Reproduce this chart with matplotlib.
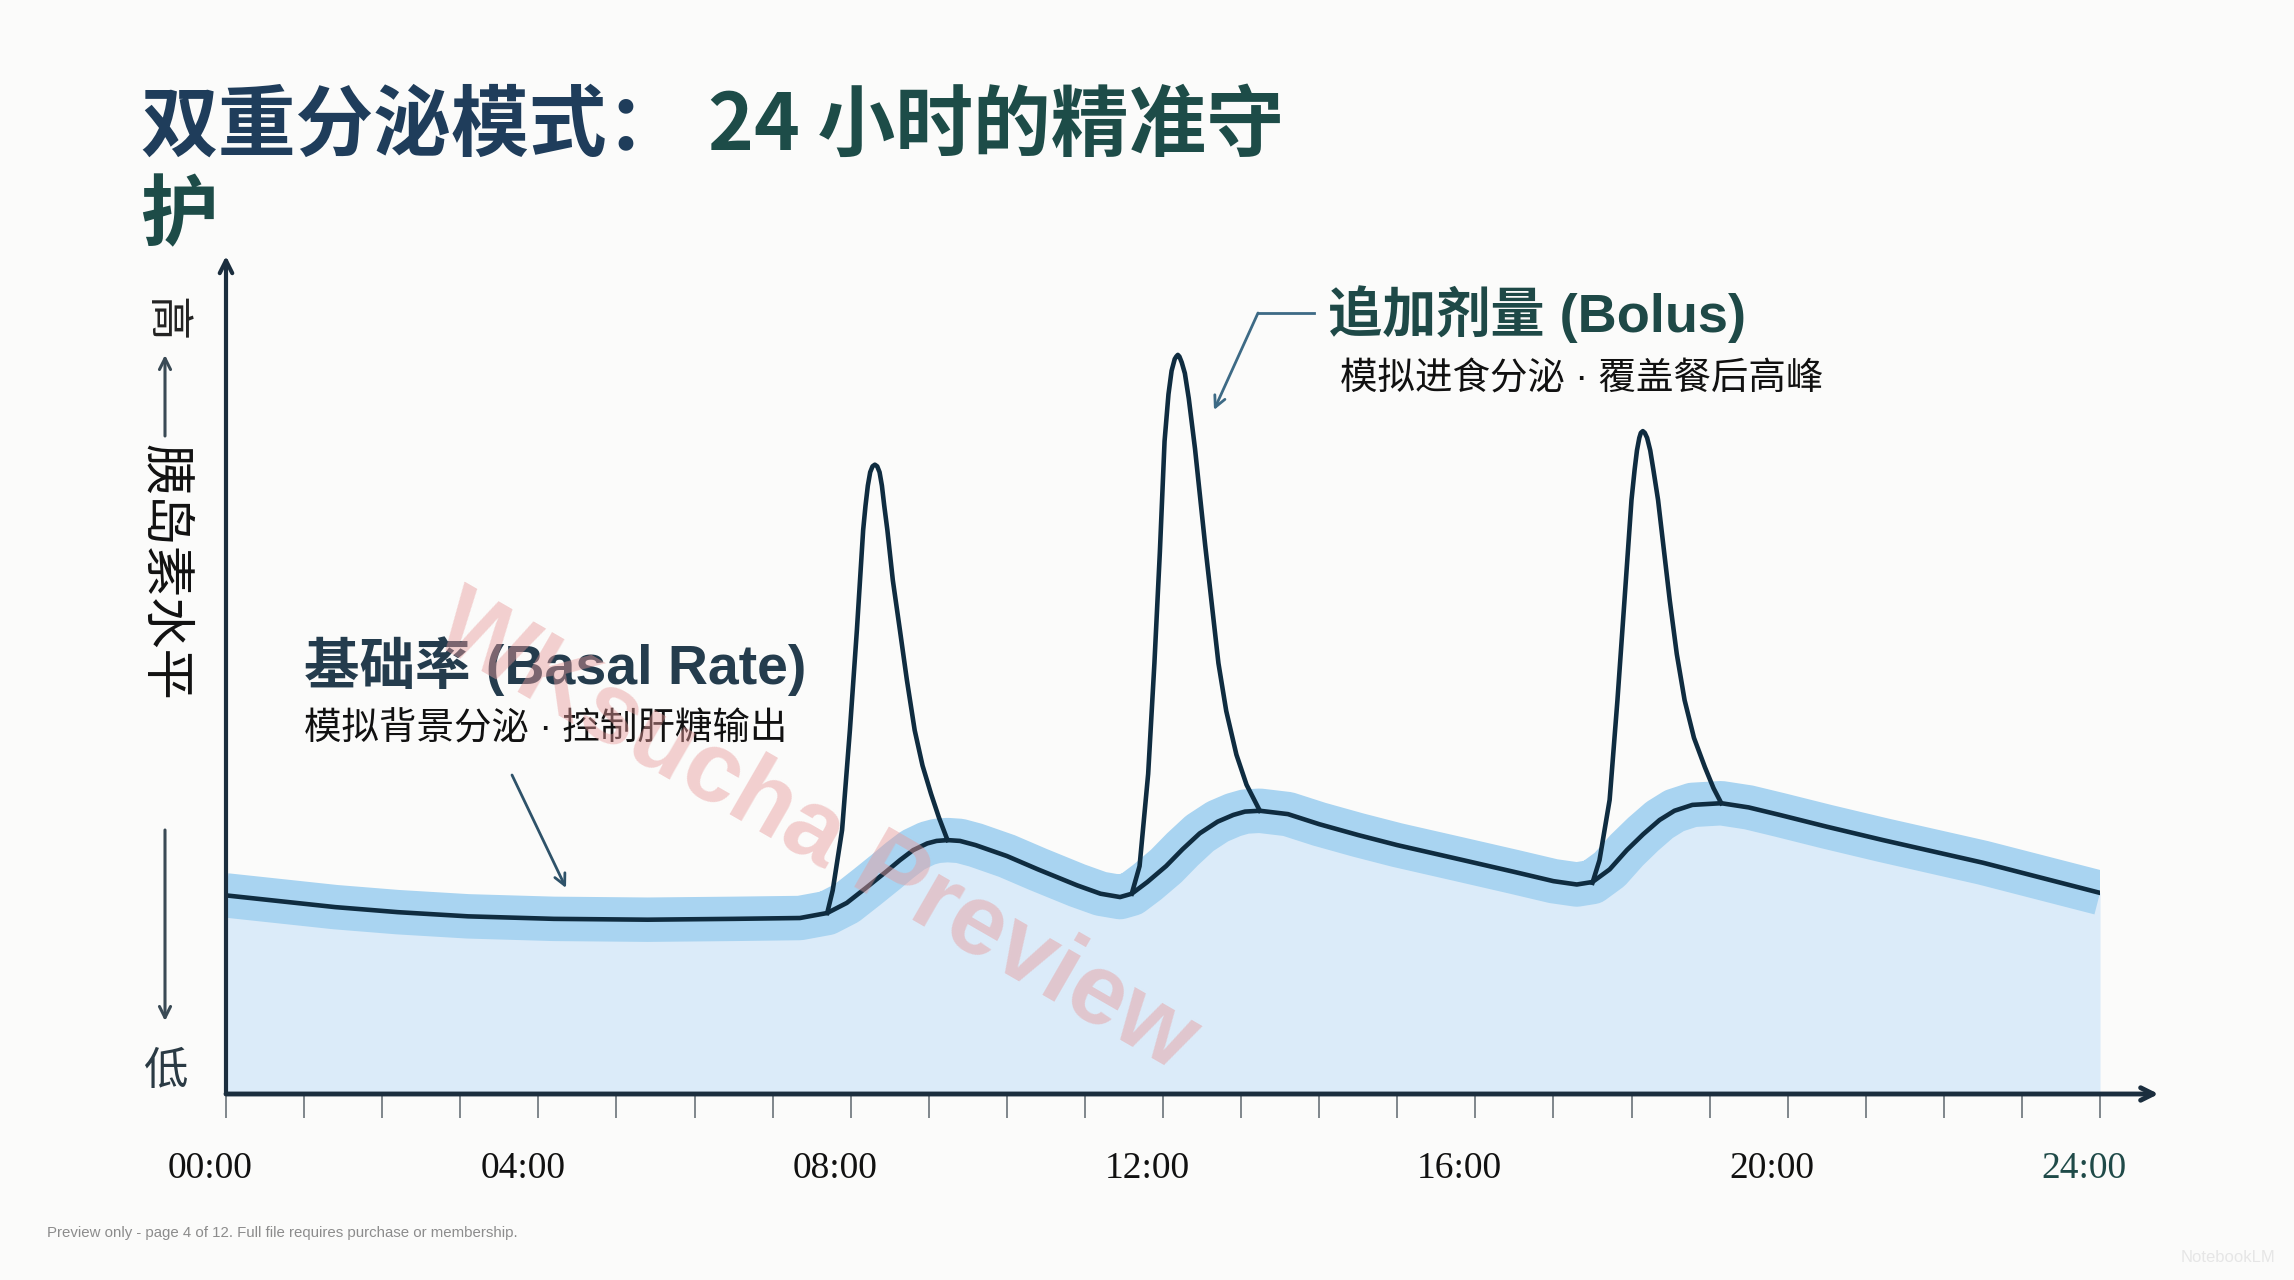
import matplotlib
matplotlib.use('Agg')
import matplotlib.pyplot as plt
from matplotlib.lines import Line2D

# basal curve (hours, relative insulin level 0-100)
basal_h = [0, 0.7, 1.4, 2.2, 3.1, 4.2, 5.4, 6.5, 7.35, 7.7, 7.95, 8.21, 8.45, 8.63, 8.8,
           8.98, 9.1, 9.24, 9.4, 9.6, 10.0, 10.4, 10.9, 11.2, 11.45, 11.6, 11.8, 12.04, 12.25,
           12.47, 12.7, 12.9, 13.05, 13.24, 13.6, 14.0, 14.5, 15.0, 15.8, 16.5, 17.0, 17.3,
           17.5, 17.72, 17.94, 18.15, 18.36, 18.55, 18.78, 19.15, 19.5, 19.9, 20.5, 21.22,
           22.5, 24.0]
basal_v = [23.7, 23.0, 22.3, 21.7, 21.2, 20.9, 20.8, 20.9, 21.0, 21.6, 22.8, 24.7, 26.5, 27.9, 29.1,
           29.9, 30.2, 30.3, 30.2, 29.7, 28.4, 26.8, 24.9, 23.9, 23.5, 23.9, 25.3, 27.2, 29.2,
           31.1, 32.5, 33.3, 33.7, 33.8, 33.4, 32.2, 30.9, 29.7, 28.0, 26.5, 25.4, 25.0,
           25.3, 26.8, 29.1, 31.0, 32.7, 33.8, 34.5, 34.7, 34.2, 33.3, 31.9, 30.3,
           27.6, 24.0]

# bolus spikes
spike1_h = [7.70, 7.77, 7.89, 7.99, 8.08, 8.16, 8.19, 8.22, 8.25, 8.28, 8.31, 8.34, 8.37,
            8.40, 8.43, 8.47, 8.54, 8.63, 8.72, 8.82, 8.92, 9.03, 9.13, 9.24]
spike1_v = [21.6, 24.3, 31.5, 43.4, 55.4, 67.3, 70.2, 72.6, 74.2, 74.9, 75.1, 74.9, 74.2,
            72.6, 70.2, 67.3, 61.3, 55.4, 49.4, 43.4, 39.2, 35.8, 33.0, 30.3]
spike2_h = [11.60, 11.70, 11.81, 11.89, 11.96, 12.02, 12.07, 12.11, 12.15, 12.17, 12.19,
            12.21, 12.24, 12.28, 12.33, 12.41, 12.54, 12.71, 12.81, 12.94, 13.07, 13.24]
spike2_v = [23.9, 27.2, 38.2, 51.4, 64.7, 77.9, 83.5, 86.3, 87.7, 88.0, 88.2,
            88.0, 87.3, 86.0, 83.0, 77.0, 65.5, 51.4, 45.7, 40.5, 36.9, 33.8]
spike3_h = [17.50, 17.59, 17.72, 17.82, 17.91, 18.00, 18.04, 18.07, 18.10, 18.12, 18.145,
            18.17, 18.20, 18.24, 18.28, 18.34, 18.49, 18.58, 18.68, 18.80, 18.94, 19.05, 19.15]
spike3_v = [25.2, 27.9, 35.1, 47.0, 58.9, 70.9, 74.5, 76.8, 78.3, 78.9, 79.1,
            78.9, 78.3, 76.8, 74.5, 70.9, 58.9, 52.5, 47.0, 42.5, 39.0, 36.5, 34.7]

tick_hours = list(range(25))
label_hours = [0, 4, 8, 12, 16, 20, 24]
label_text = ['00:00', '04:00', '08:00', '12:00', '16:00', '20:00', '24:00']

W, H = 2294, 1280


def fx(x):
    return x / W


def fy(y):
    return 1 - y / H


cjk = ['Noto Sans CJK SC', 'DejaVu Sans']
mixed = ['Liberation Sans', 'Noto Sans CJK SC']

fig = plt.figure(figsize=(W / 100, H / 100), dpi=100)
fig.patch.set_facecolor('#fbfbfa')

ax = fig.add_axes([226 / W, 1 - 1094 / H, 1874 / W, 838 / H])
ax.set_xlim(0, 24)
ax.set_ylim(0, 100)
ax.patch.set_alpha(0)
for s in ax.spines.values():
    s.set_visible(False)

# curves
linecol = '#0f2c40'
ax.fill_between(basal_h, basal_v, 0, color='#dbebf9', lw=0, zorder=1)
ax.plot(basal_h, basal_v, color='#a9d4f1', lw=32, solid_capstyle='butt',
        solid_joinstyle='round', zorder=2)
ax.plot(basal_h, basal_v, color=linecol, lw=3.3, solid_joinstyle='round', zorder=4)
for sh, sv in [(spike1_h, spike1_v), (spike2_h, spike2_v), (spike3_h, spike3_v)]:
    ax.plot(sh, sv, color=linecol, lw=3.3, solid_joinstyle='round', zorder=4)

# axes with arrows
axcol = '#1b2e3e'
ax.annotate('', xy=(24.75, 0), xytext=(0, 0), annotation_clip=False,
            arrowprops=dict(arrowstyle='->,head_length=0.9,head_width=0.45', color=axcol, lw=3.5,
                            shrinkA=0, shrinkB=0), zorder=5)
ax.annotate('', xy=(0, 100), xytext=(0, 0), annotation_clip=False,
            arrowprops=dict(arrowstyle='->,head_length=0.9,head_width=0.45', color=axcol, lw=3,
                            shrinkA=0, shrinkB=0), zorder=5)

ax.set_xticks(tick_hours)
ax.set_yticks([])
ax.tick_params(axis='x', direction='out', length=17, width=1.4, color='#7f868c',
               labelbottom=False)

for h, lab in zip(label_hours, label_text):
    col = '#1f4a48' if lab == '24:00' else '#111111'
    ax.text(h - 0.2, -8.9, lab, ha='center', va='center', fontsize=27,
            family='Liberation Serif', color=col, clip_on=False)

# title
fig.text(fx(140), fy(127), '双重分泌模式：', fontsize=56, fontweight='bold', family=cjk,
         color='#1f3d5b', va='center', ha='left')
fig.text(fx(708), fy(127), '24 小时的精准守', fontsize=56, fontweight='bold', family=cjk,
         color='#1d4c48', va='center', ha='left')
fig.text(fx(140), fy(217), '护', fontsize=56, fontweight='bold', family=cjk,
         color='#1d4c48', va='center', ha='left')

# annotations
fig.text(fx(304), fy(666), '基础率 (Basal Rate)', fontsize=40, fontweight='bold', family=mixed,
         color='#243c4d', va='center', ha='left')
fig.text(fx(304), fy(730), '模拟背景分泌 · 控制肝糖输出', fontsize=27, family=mixed,
         color='#111111', va='center', ha='left')
fig.text(fx(1328), fy(314), '追加剂量 (Bolus)', fontsize=39, fontweight='bold', family=mixed,
         color='#1e4947', va='center', ha='left')
fig.text(fx(1340), fy(380), '模拟进食分泌 · 覆盖餐后高峰', fontsize=27, family=mixed,
         color='#111111', va='center', ha='left')

ax.annotate('', xy=(fx(566), fy(888)), xytext=(fx(512), fy(775)), xycoords='figure fraction',
            arrowprops=dict(arrowstyle='->,head_length=0.8,head_width=0.4', color='#2e5269', lw=2,
                            shrinkA=0, shrinkB=0))
fig.add_artist(Line2D([fx(1314), fx(1258)], [fy(313), fy(313)], color='#3d6a85', lw=2))
ax.annotate('', xy=(fx(1214), fy(410)), xytext=(fx(1258), fy(313)), xycoords='figure fraction',
            arrowprops=dict(arrowstyle='->,head_length=0.8,head_width=0.4', color='#3d6a85', lw=2,
                            shrinkA=0, shrinkB=0))

# y-axis label with arrows
fig.text(fx(165), fy(319), '高', rotation=-90, fontsize=32, family=cjk, color='#222222',
         ha='center', va='center')
fig.text(fx(165), fy(572), '胰岛素水平', rotation=-90, fontsize=37, family=cjk, color='#111111',
         ha='center', va='center')
fig.text(fx(165), fy(1071), '低', fontsize=32, family=cjk, color='#2a3a44',
         ha='center', va='center')
ax.annotate('', xy=(fx(165), fy(355)), xytext=(fx(165), fy(436)), xycoords='figure fraction',
            arrowprops=dict(arrowstyle='->,head_length=0.8,head_width=0.4', color='#3a4a55', lw=2.2,
                            shrinkA=0, shrinkB=0))
ax.annotate('', xy=(fx(165), fy(1021)), xytext=(fx(165), fy(830)), xycoords='figure fraction',
            arrowprops=dict(arrowstyle='->,head_length=0.8,head_width=0.4', color='#3a4a55', lw=2.2,
                            shrinkA=0, shrinkB=0))

# watermark and footer
fig.text(fx(815), fy(834), 'WKsucha Preview', rotation=-30, fontsize=72, fontweight='bold',
         family='Liberation Sans', color='#e89a9a', alpha=0.45, ha='center', va='center', zorder=10)
fig.text(fx(47), fy(1233), 'Preview only - page 4 of 12. Full file requires purchase or membership.',
         fontsize=10.8, family='Liberation Sans', color='#8c8c8c', va='center', ha='left')
fig.text(fx(2275), fy(1258), 'NotebookLM', fontsize=12, family='Liberation Sans', color='#e6e6e6',
         va='center', ha='right')

fig.savefig('out.png', dpi=100, facecolor=fig.get_facecolor())
